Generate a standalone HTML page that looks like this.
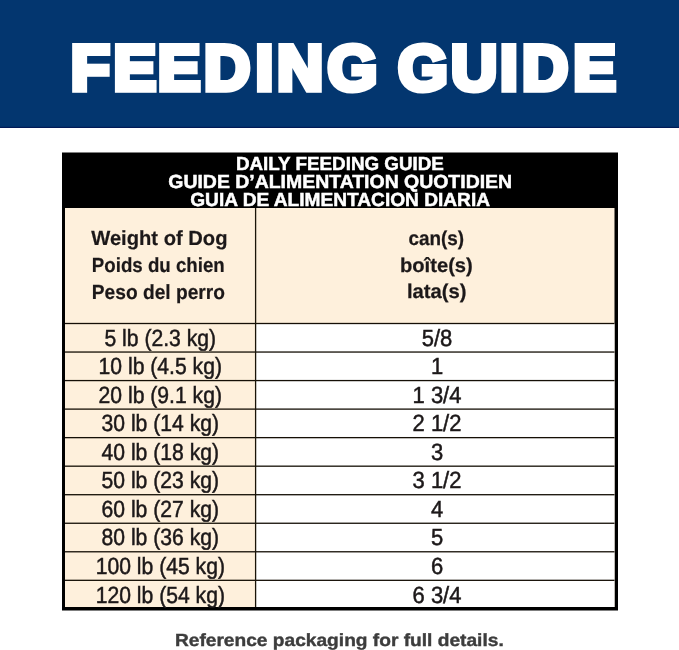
<!DOCTYPE html>
<html lang="en"><head><meta charset="utf-8"><title>Feeding Guide</title>
<style>html,body{margin:0;padding:0;background:#fff}body{width:679px;height:650px;overflow:hidden}svg{display:block}text{font-family:"Liberation Sans",sans-serif;white-space:pre;text-rendering:geometricPrecision}</style></head><body>
<svg width="679" height="650" viewBox="0 0 679 650">
<rect x="0" y="0" width="679" height="650" fill="#fff"/>
<rect x="0" y="0" width="679" height="128" fill="#03366f"/>
<rect x="0" y="126.8" width="679" height="1.2" fill="#011a57"/>
<rect x="62" y="152.5" width="556" height="458.0" fill="#000"/>
<rect x="65" y="208" width="549.5" height="399" fill="#fef0dc"/>
<rect x="255.6" y="323.5" width="358.9" height="283.5" fill="#fff"/>
<rect x="65" y="322.85" width="549.5" height="1.3" fill="#150f06"/>
<rect x="65" y="351.39" width="549.5" height="1.3" fill="#150f06"/>
<rect x="65" y="379.92" width="549.5" height="1.3" fill="#150f06"/>
<rect x="65" y="408.46" width="549.5" height="1.3" fill="#150f06"/>
<rect x="65" y="436.99" width="549.5" height="1.3" fill="#150f06"/>
<rect x="65" y="465.53" width="549.5" height="1.3" fill="#150f06"/>
<rect x="65" y="494.06" width="549.5" height="1.3" fill="#150f06"/>
<rect x="65" y="522.60" width="549.5" height="1.3" fill="#150f06"/>
<rect x="65" y="551.13" width="549.5" height="1.3" fill="#150f06"/>
<rect x="65" y="579.67" width="549.5" height="1.3" fill="#150f06"/>
<rect x="254.95" y="208" width="1.3" height="399" fill="#1a1408"/>
<text transform="scale(1.0 1.0)" x="70.63 113.62 157.72 204.09 255.41 276.96 327.53 367.53 397.88 451.02 499.96 521.99 573.32" y="90.00" font-size="64.0" font-weight="bold" fill="#fff" stroke="#fff" stroke-width="5.7" stroke-linejoin="miter" stroke-miterlimit="2" text-rendering="geometricPrecision">FEEDING GUIDE</text>
<text transform="translate(235.96 169.80) scale(0.9955 1)" font-size="18.9" font-weight="bold" fill="#fff" stroke="#fff" stroke-width="0.5">DAILY FEEDING GUIDE</text>
<text transform="translate(168.29 187.80) scale(1.0291 1)" font-size="18.9" font-weight="bold" fill="#fff" stroke="#fff" stroke-width="0.5">GUIDE D’ALIMENTATION QUOTIDIEN</text>
<text transform="translate(190.25 206.10) scale(1.0117 1)" font-size="18.9" font-weight="bold" fill="#fff" stroke="#fff" stroke-width="0.5">GUIA DE ALIMENTACION DIARIA</text>
<text transform="translate(91.25 244.70) scale(0.9833 1)" font-size="20.5" font-weight="bold" fill="#1c1819" stroke="#1c1819" stroke-width="0.2">Weight of Dog</text>
<text transform="translate(91.86 271.80) scale(0.9113 1)" font-size="20.5" font-weight="bold" fill="#1c1819" stroke="#1c1819" stroke-width="0.2">Poids du chien</text>
<text transform="translate(91.83 298.50) scale(0.9345 1)" font-size="20.5" font-weight="bold" fill="#1c1819" stroke="#1c1819" stroke-width="0.2">Peso del perro</text>
<text transform="translate(408.53 245.20) scale(0.9444 1)" font-size="20.0" font-weight="bold" fill="#1c1819" stroke="#1c1819" stroke-width="0.25">can(s)</text>
<text transform="translate(399.99 271.80) scale(1.0079 1)" font-size="20.0" font-weight="bold" fill="#1c1819" stroke="#1c1819" stroke-width="0.25">boîte(s)</text>
<text transform="translate(406.99 298.30) scale(1.0106 1)" font-size="20.0" font-weight="bold" fill="#1c1819" stroke="#1c1819" stroke-width="0.25">lata(s)</text>
<text transform="translate(174.92 645.50) scale(1.0941 1)" font-size="17.5" font-weight="bold" fill="#3d3d3d" stroke="#3d3d3d" stroke-width="0.4">Reference packaging for full details.</text>
<text transform="translate(160.30 345.60) scale(0.9038 1)" text-anchor="middle" font-size="23.4" fill="#1c1819" stroke="#1c1819" stroke-width="0.5">5 lb (2.3 kg)</text>
<text transform="translate(437.00 345.60) scale(0.9400 1)" text-anchor="middle" font-size="23.4" fill="#1c1819" stroke="#1c1819" stroke-width="0.5">5/8</text>
<text transform="translate(160.30 374.14) scale(0.9038 1)" text-anchor="middle" font-size="23.4" fill="#1c1819" stroke="#1c1819" stroke-width="0.5">10 lb (4.5 kg)</text>
<text transform="translate(437.00 374.14) scale(0.9400 1)" text-anchor="middle" font-size="23.4" fill="#1c1819" stroke="#1c1819" stroke-width="0.5">1</text>
<text transform="translate(160.30 402.67) scale(0.9038 1)" text-anchor="middle" font-size="23.4" fill="#1c1819" stroke="#1c1819" stroke-width="0.5">20 lb (9.1 kg)</text>
<text transform="translate(437.00 402.67) scale(0.9400 1)" text-anchor="middle" font-size="23.4" fill="#1c1819" stroke="#1c1819" stroke-width="0.5">1 3/4</text>
<text transform="translate(160.30 431.21) scale(0.9038 1)" text-anchor="middle" font-size="23.4" fill="#1c1819" stroke="#1c1819" stroke-width="0.5">30 lb (14 kg)</text>
<text transform="translate(437.00 431.21) scale(0.9400 1)" text-anchor="middle" font-size="23.4" fill="#1c1819" stroke="#1c1819" stroke-width="0.5">2 1/2</text>
<text transform="translate(160.30 459.74) scale(0.9038 1)" text-anchor="middle" font-size="23.4" fill="#1c1819" stroke="#1c1819" stroke-width="0.5">40 lb (18 kg)</text>
<text transform="translate(437.00 459.74) scale(0.9400 1)" text-anchor="middle" font-size="23.4" fill="#1c1819" stroke="#1c1819" stroke-width="0.5">3</text>
<text transform="translate(160.30 488.28) scale(0.9038 1)" text-anchor="middle" font-size="23.4" fill="#1c1819" stroke="#1c1819" stroke-width="0.5">50 lb (23 kg)</text>
<text transform="translate(437.00 488.28) scale(0.9400 1)" text-anchor="middle" font-size="23.4" fill="#1c1819" stroke="#1c1819" stroke-width="0.5">3 1/2</text>
<text transform="translate(160.30 516.81) scale(0.9038 1)" text-anchor="middle" font-size="23.4" fill="#1c1819" stroke="#1c1819" stroke-width="0.5">60 lb (27 kg)</text>
<text transform="translate(437.00 516.81) scale(0.9400 1)" text-anchor="middle" font-size="23.4" fill="#1c1819" stroke="#1c1819" stroke-width="0.5">4</text>
<text transform="translate(160.30 545.35) scale(0.9038 1)" text-anchor="middle" font-size="23.4" fill="#1c1819" stroke="#1c1819" stroke-width="0.5">80 lb (36 kg)</text>
<text transform="translate(437.00 545.35) scale(0.9400 1)" text-anchor="middle" font-size="23.4" fill="#1c1819" stroke="#1c1819" stroke-width="0.5">5</text>
<text transform="translate(160.30 573.88) scale(0.9038 1)" text-anchor="middle" font-size="23.4" fill="#1c1819" stroke="#1c1819" stroke-width="0.5">100 lb (45 kg)</text>
<text transform="translate(437.00 573.88) scale(0.9400 1)" text-anchor="middle" font-size="23.4" fill="#1c1819" stroke="#1c1819" stroke-width="0.5">6</text>
<text transform="translate(160.30 603.12) scale(0.9038 1)" text-anchor="middle" font-size="23.4" fill="#1c1819" stroke="#1c1819" stroke-width="0.5">120 lb (54 kg)</text>
<text transform="translate(437.00 603.12) scale(0.9400 1)" text-anchor="middle" font-size="23.4" fill="#1c1819" stroke="#1c1819" stroke-width="0.5">6 3/4</text>
</svg></body></html>
